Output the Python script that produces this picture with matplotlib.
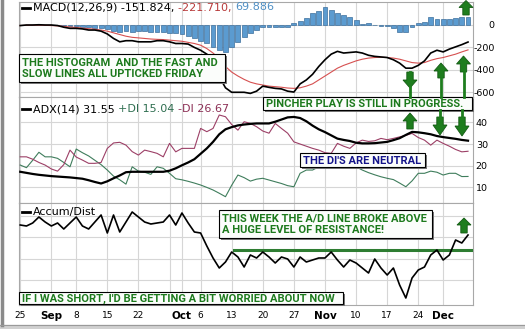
import matplotlib.pyplot as plt
from matplotlib.patches import Rectangle, Polygon

# trading days from Aug 25 to Dec 5 (index 0..72)
macd = [-5, 0, 0, 2, 0, 0, -5, -20, -30, -30, -35, -45, -45, -55, -80, -120, -150, -140, -140, -150,
        -150, -150, -140, -140, -150, -165, -165, -170, -200, -225, -260, -300, -460, -560, -600, -600,
        -600, -610, -590, -545, -556, -565, -570, -590, -598, -525, -490, -440, -370, -310, -260, -235,
        -250, -245, -240, -250, -270, -280, -285, -290, -310, -340, -385, -385, -360, -320, -250, -225,
        -240, -215, -195, -175, -152]
signal = [-5, -3, -2, -2, -3, -5, -8, -12, -18, -22, -28, -33, -38, -45, -55, -70, -85, -100, -110, -115,
          -120, -125, -128, -130, -135, -140, -145, -155, -165, -180, -210, -250, -300, -370, -420, -455,
          -485, -510, -525, -535, -545, -550, -555, -562, -565, -560, -545, -525, -490, -455, -420, -385,
          -360, -340, -320, -305, -295, -290, -288, -290, -295, -305, -320, -335, -340, -335, -315, -300,
          -290, -275, -260, -240, -222]
hist = [0, 2, 2, 3, 2, -2, -4, -6, -10, -12, -15, -21, -25, -30, -40, -50, -60, -58, -60, -52,
        -56, -60, -60, -65, -75, -75, -78, -100, -120, -140, -165, -195, -225, -240, -195, -150,
        -105, -75, -45, -15, -15, -20, -21, -21, 15, 39, 60, 111, 126, 158, 135, 105,
        90, 75, 45, 9, 21, 0, -6, -9, -30, -66, -60, -15, 15, 30, 75, 54,
        54, 54, 60, 69, 70]

adx = [17.2, 16.7, 16.2, 15.8, 15.5, 15.2, 15.0, 14.8, 14.6, 14.3, 14.0, 13.3, 12.5, 11.8, 12.8, 14.2,
       15.5, 17.0, 17.2, 17.2, 17.2, 17.2, 17.2, 17.2, 17.7, 18.8, 20.2, 21.5, 23.0, 25.5, 28.0, 31.0,
       34.5, 36.8, 37.8, 38.6, 39.0, 39.3, 39.5, 39.5, 39.5, 40.3, 41.3, 42.3, 42.5, 42.0, 40.5, 38.5,
       36.8, 35.5, 34.0, 32.5, 31.9, 31.4, 30.6, 30.3, 30.3, 30.4, 30.7, 31.0, 31.8, 32.7, 34.2, 35.6,
       35.4, 35.0, 34.5, 33.7, 33.2, 32.8, 32.4, 31.9, 31.55]
plus_di = [20.3, 19.1, 22.5, 26.2, 24.1, 24.1, 23.4, 21.5, 19.5, 27.7, 26.0, 24.5, 22.5, 20.5, 18.0, 15.2,
           13.5, 11.5, 19.5, 17.5, 17.0, 16.0, 19.5, 18.8, 16.5, 14.0, 13.5, 12.8, 12.0, 11.1, 10.0, 8.8,
           7.3, 5.7, 11.0, 15.7, 14.5, 12.9, 13.8, 14.2, 13.4, 12.6, 11.8, 10.8, 10.3, 16.5, 18.0, 18.0,
           19.5, 20.5, 21.1, 20.5, 19.6, 19.5, 19.5, 18.0, 16.8, 15.8, 14.9, 14.2, 13.6, 12.0, 10.3, 13.0,
           16.5, 16.5, 17.5, 17.0, 15.7, 16.5, 16.5, 15.0, 15.04]
minus_di = [24.1, 24.1, 23.0, 21.5, 20.3, 18.5, 17.5, 20.5, 27.2, 24.0, 22.6, 21.1, 21.1, 21.5, 28.0, 30.5,
            30.8, 29.5, 26.5, 24.9, 27.2, 26.5, 25.7, 24.1, 30.3, 26.4, 28.0, 28.0, 28.0, 37.2, 35.7, 37.2,
            43.4, 42.6, 39.0, 36.4, 40.3, 39.5, 38.0, 36.0, 35.0, 39.5, 37.2, 35.0, 31.0, 30.0, 29.0, 28.0,
            27.2, 26.0, 25.7, 30.3, 29.0, 28.0, 30.5, 31.8, 31.2, 31.5, 32.6, 32.0, 32.6, 33.3, 34.0, 34.9,
            33.0, 31.8, 29.5, 31.8, 30.3, 29.0, 27.5, 26.4, 26.67]

accum = [75, 74, 77, 83, 78, 74, 77, 71, 77, 83, 74, 71, 78, 85, 67, 85, 68, 78, 88, 83,
         78, 76, 77, 78, 85, 75, 87, 77, 68, 67, 54, 42, 32, 38, 48, 43, 33, 45, 42, 48,
         43, 37, 43, 41, 33, 43, 38, 40, 42, 42, 48, 40, 33, 40, 37, 32, 27, 41, 32, 25,
         32, 15, 2, 22, 30, 33, 45, 50, 40, 45, 60, 57, 65]
resistance = 50.5

tick_pos = [0, 5, 9, 14, 19, 26, 29, 34, 39, 44, 49, 54, 59, 64, 68]
tick_lbl = ['25', 'Sep', '8', '15', '22', 'Oct', '6', '13', '20', '27', 'Nov', '10', '17', '24', 'Dec']
months = ['Sep', 'Oct', 'Nov', 'Dec']
grid_pos = tick_pos + [24]

macd_ticks = [0, -200, -400, -600]
adx_ticks = [10, 20, 30, 40]
accum_grid = [20, 41.5, 63, 84.5]

W, H = 525, 329
idx = list(range(len(macd)))

fig = plt.figure(figsize=(W / 100, H / 100), dpi=100)
fig.patch.set_facecolor('white')

def panel(top, bottom):
    left, right = 19, 473
    return fig.add_axes([left / W, 1 - bottom / H, (right - left) / W, (bottom - top) / H])

ax1 = panel(2, 97)
ax2 = panel(97, 203)
ax3 = panel(203, 305)

for ax in (ax1, ax2, ax3):
    ax.set_xlim(-0.2, 72.8)
    for x in grid_pos:
        ax.axvline(x, color='#d6d6d6', lw=0.8, zorder=0)
    for s in ax.spines.values():
        s.set_color('#a8a8a8')
        s.set_linewidth(0.8)
    ax.yaxis.tick_right()
    ax.tick_params(axis='both', length=0, labelsize=6.8, colors='black')
    ax.set_xticks(tick_pos)
    ax.set_xticklabels([])

# MACD
ax1.set_ylim(-642, 205)
for v in macd_ticks:
    ax1.axhline(v, color='#d6d6d6', lw=0.8, zorder=0)
ax1.bar(idx, hist, width=0.78, color='#5b9bd0', edgecolor='#3d6f9c', linewidth=0.5, zorder=2)
ax1.plot(idx, signal, color='#d65050', lw=0.8, zorder=3)
ax1.plot(idx, macd, color='black', lw=1.2, zorder=4)
ax1.set_yticks(macd_ticks)
ax1.set_yticklabels([str(v) for v in macd_ticks], ha='right')
ax1.tick_params(axis='y', pad=15.5)

# ADX
ax2.set_ylim(2.8, 51.7)
for v in adx_ticks:
    ax2.axhline(v, color='#d6d6d6', lw=0.8, zorder=0)
ax2.plot(idx, plus_di, color='#3f7d5c', lw=0.8, zorder=3)
ax2.plot(idx, minus_di, color='#9c3f66', lw=0.8, zorder=3)
ax2.plot(idx, adx, color='black', lw=1.6, zorder=4)
ax2.set_yticks(adx_ticks)
ax2.tick_params(axis='y', pad=2)

# Accum/Dist
ax3.set_ylim(-5, 97)
for v in accum_grid:
    ax3.axhline(v, color='#d6d6d6', lw=0.8, zorder=0)
ax3.plot(idx, accum, color='black', lw=1.2, zorder=4)
ax3.axhline(resistance, xmin=0.473, xmax=1, color='#2e7d32', lw=2.2, zorder=3)
ax3.set_yticks([])
ax3.set_xticklabels(tick_lbl)
ax3.tick_params(axis='x', pad=4, labelsize=6.5)
for t in ax3.get_xticklabels():
    if t.get_text() in months:
        t.set_fontweight('bold')
        t.set_fontsize(7.5)

# overlay in pixel coordinates for legends and notes
ov = fig.add_axes([0, 0, 1, 1])
ov.set_xlim(0, W)
ov.set_ylim(H, 0)
ov.axis('off')
ov.patch.set_alpha(0)

ov.plot([1.5, 1.5], [0, H - 4], color='#8a8a8a', lw=2.5)
ov.add_patch(Rectangle((0, H - 4), W, 4, color='#d0d0d0'))
ov.plot([0, W], [H - 4.5, H - 4.5], color='#9a9a9a', lw=0.8)

renderer = fig.canvas.get_renderer()

def legend(y, pieces):
    ov.plot([22, 30], [y, y], color='black', lw=2)
    x = 33
    for txt, col in pieces:
        t = ov.text(x, y, txt, color=col, fontsize=8, va='center', ha='left')
        bb = t.get_window_extent(renderer)
        x += bb.width

legend(7.5, [('MACD(12,26,9) -151.824, ', 'black'), ('-221.710, ', '#b83a3a'), ('69.886', '#4f8fc4')])
legend(109, [('ADX(14) 31.55 ', 'black'), ('+DI 15.04 ', '#2f6e50'), ('-DI 26.67', '#8c2f55')])
legend(212, [('Accum/Dist', 'black')])

note_font = ['Roboto', 'DejaVu Sans']

def note(x0, y0, x1, y1, text, color='#1d7a1d'):
    ov.add_patch(Rectangle((x0 + 2, y0 + 2), x1 - x0, y1 - y0, facecolor='#7a7a7a', edgecolor='none', zorder=5))
    ov.add_patch(Rectangle((x0, y0), x1 - x0, y1 - y0, facecolor='#fbfdfb', edgecolor='black', lw=0.8, zorder=6))
    ov.text(x0 + 3, (y0 + y1) / 2 + 0.5, text, color=color, fontsize=8.0, fontweight='bold',
            family=note_font, va='center', ha='left', linespacing=1.2, zorder=7)

def arrow(x, tip, base, end, stem=None):
    hw, sw = 7, 3.2
    pts = [(x, tip), (x - hw, base), (x - sw, base), (x - sw, end), (x + sw, end), (x + sw, base), (x + hw, base)]
    ov.add_patch(Polygon(pts, closed=True, facecolor='#1e7d1e', edgecolor='#135a13', lw=0.6, zorder=8))
    if stem is not None:
        ov.plot([x, x], [end, stem], color='#1e7d1e', lw=2, zorder=8)

note(19, 54, 225, 82, 'THE HISTOGRAM  AND THE FAST AND\nSLOW LINES ALL UPTICKED FRIDAY')
note(263, 97, 472, 110, 'PINCHER PLAY IS STILL IN PROGRESS.')
note(300, 153, 425, 167, "THE DI'S ARE NEUTRAL", color='#14148a')
note(219, 210, 432, 238, 'THIS WEEK THE A/D LINE BROKE ABOVE\nA HUGE LEVEL OF RESISTANCE!')
note(19, 292, 343, 304, "IF I WAS SHORT, I'D BE GETTING A BIT WORRIED ABOUT NOW")

arrow(466, 0.5, 7.5, 15)
arrow(441, 63, 71, 78, stem=97)
arrow(463.5, 56, 64, 72, stem=97)
arrow(410, 88, 80, 72, stem=97)
arrow(410, 113, 121, 129)
arrow(440, 135, 125, 117, stem=110)
arrow(462, 136, 126, 117, stem=110)
arrow(464, 218, 225, 233)

fig.savefig('out.png', dpi=100)
